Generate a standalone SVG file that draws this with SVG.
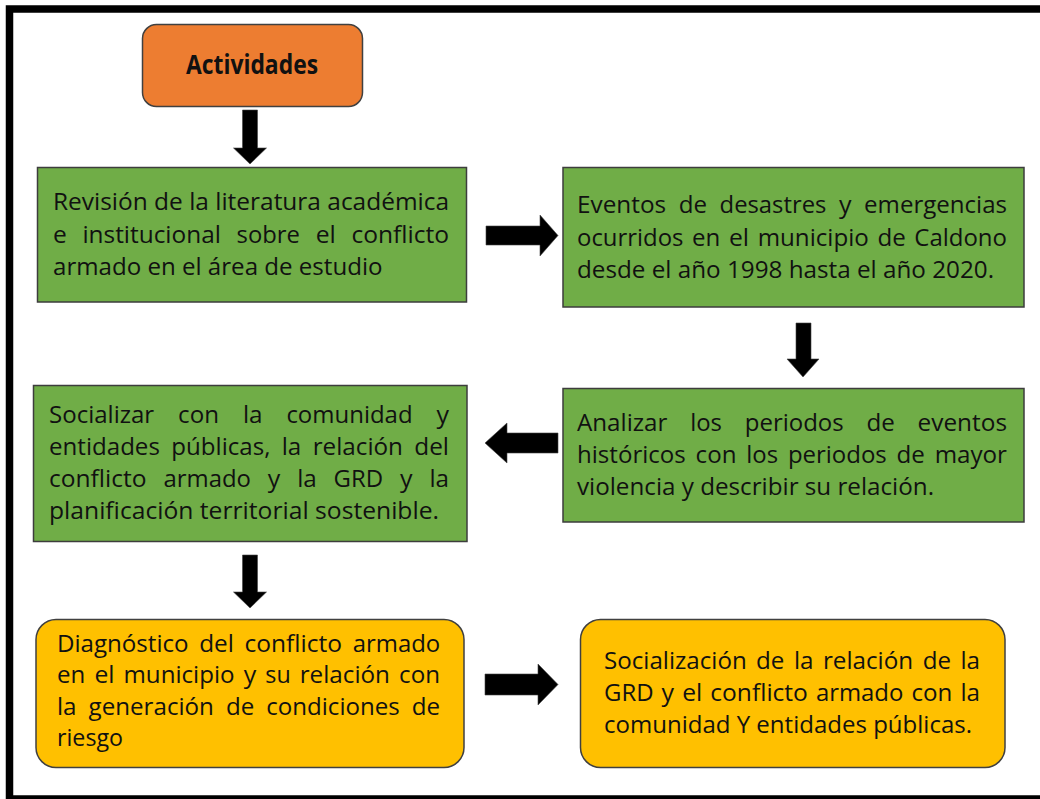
<svg xmlns="http://www.w3.org/2000/svg" width="1040" height="799" viewBox="0 0 1040 799">
<style>
.t{font-family:"Open Sans","Liberation Sans",sans-serif;font-size:24.5px;fill:#111}
.b{font-family:"Open Sans","Liberation Sans",sans-serif;font-size:26px;font-weight:bold;fill:#111}
.g{fill:#70AD47;stroke:#3d3d3d;stroke-width:1.5}
.o{fill:#ED7D31;stroke:#404040;stroke-width:1.5}
.y{fill:#FFC000;stroke:#404040;stroke-width:1.5}
.a{fill:#000;stroke:#444;stroke-width:0.6}
</style>
<rect width="1040" height="799" fill="#fff"/>
<rect x="9.5" y="9" width="1045" height="790" fill="none" stroke="#000" stroke-width="7.5"/>

<g id="connectors">
<polygon class="a" points="242.5,110 257.5,110 257.5,148 266.5,148 250,164 233.5,148 242.5,148"/>
<polygon class="a" points="486,226 540,226 540,215 558,235.5 540,256 540,245 486,245"/>
<polygon class="a" points="796,323 811,323 811,359 819,359 803,377 787,359 796,359"/>
<polygon class="a" points="558,433 507,433 507,423 485,443 507,463 507,453 558,453"/>
<polygon class="a" points="242.5,555 257.5,555 257.5,592 266.5,592 250,608 233.5,592 242.5,592"/>
<polygon class="a" points="485,674 538,674 538,664 558,684.5 538,705 538,695 485,695"/>
</g>

<g id="actividades">
<rect class="o" x="142.5" y="24.5" width="220" height="82" rx="14"/>
<text class="b" x="186" y="74" textLength="132" lengthAdjust="spacingAndGlyphs">Actividades</text>
</g>

<g id="revision">
<rect class="g" x="37.5" y="167.5" width="429" height="134.5"/>
<text class="t" x="53" y="210" textLength="396" lengthAdjust="spacingAndGlyphs">Revisión de la literatura académica</text>
<text class="t" x="53" y="243" textLength="13.8" lengthAdjust="spacingAndGlyphs">e</text>
<text class="t" x="82.4" y="243" textLength="138.5" lengthAdjust="spacingAndGlyphs">institucional</text>
<text class="t" x="236.6" y="243" textLength="63.4" lengthAdjust="spacingAndGlyphs">sobre</text>
<text class="t" x="315.7" y="243" textLength="20.1" lengthAdjust="spacingAndGlyphs">el</text>
<text class="t" x="351.4" y="243" textLength="97.6" lengthAdjust="spacingAndGlyphs">conflicto</text>
<text class="t" x="53" y="275" textLength="329.5" lengthAdjust="spacingAndGlyphs">armado en el área de estudio</text>
</g>

<g id="eventos">
<rect class="g" x="563" y="167.5" width="461" height="139.5"/>
<text class="t" x="577" y="213" textLength="89.1" lengthAdjust="spacingAndGlyphs">Eventos</text>
<text class="t" x="678.7" y="213" textLength="28.3" lengthAdjust="spacingAndGlyphs">de</text>
<text class="t" x="719.6" y="213" textLength="106.8" lengthAdjust="spacingAndGlyphs">desastres</text>
<text class="t" x="839" y="213" textLength="12.5" lengthAdjust="spacingAndGlyphs">y</text>
<text class="t" x="864.1" y="213" textLength="142.9" lengthAdjust="spacingAndGlyphs">emergencias</text>
<text class="t" x="577" y="246" textLength="106.5" lengthAdjust="spacingAndGlyphs">ocurridos</text>
<text class="t" x="692.1" y="246" textLength="28.3" lengthAdjust="spacingAndGlyphs">en</text>
<text class="t" x="729" y="246" textLength="20.1" lengthAdjust="spacingAndGlyphs">el</text>
<text class="t" x="757.7" y="246" textLength="111.1" lengthAdjust="spacingAndGlyphs">municipio</text>
<text class="t" x="877.4" y="246" textLength="28.3" lengthAdjust="spacingAndGlyphs">de</text>
<text class="t" x="914.3" y="246" textLength="92.7" lengthAdjust="spacingAndGlyphs">Caldono</text>
<text class="t" x="577" y="278" textLength="417" lengthAdjust="spacingAndGlyphs">desde el año 1998 hasta el año 2020.</text>
</g>

<g id="analizar">
<rect class="g" x="563" y="388.5" width="461" height="133.5"/>
<text class="t" x="577" y="431" textLength="90.4" lengthAdjust="spacingAndGlyphs">Analizar</text>
<text class="t" x="690.2" y="431" textLength="31.8" lengthAdjust="spacingAndGlyphs">los</text>
<text class="t" x="744.8" y="431" textLength="98.9" lengthAdjust="spacingAndGlyphs">periodos</text>
<text class="t" x="866.5" y="431" textLength="28.3" lengthAdjust="spacingAndGlyphs">de</text>
<text class="t" x="917.6" y="431" textLength="89.4" lengthAdjust="spacingAndGlyphs">eventos</text>
<text class="t" x="577" y="463" textLength="108.8" lengthAdjust="spacingAndGlyphs">históricos</text>
<text class="t" x="695.6" y="463" textLength="40.9" lengthAdjust="spacingAndGlyphs">con</text>
<text class="t" x="746.3" y="463" textLength="31.8" lengthAdjust="spacingAndGlyphs">los</text>
<text class="t" x="787.9" y="463" textLength="98.9" lengthAdjust="spacingAndGlyphs">periodos</text>
<text class="t" x="896.6" y="463" textLength="28.3" lengthAdjust="spacingAndGlyphs">de</text>
<text class="t" x="934.7" y="463" textLength="72.3" lengthAdjust="spacingAndGlyphs">mayor</text>
<text class="t" x="577" y="495" textLength="357" lengthAdjust="spacingAndGlyphs">violencia y describir su relación.</text>
</g>

<g id="socializar">
<rect class="g" x="33.5" y="385.5" width="433.5" height="156"/>
<text class="t" x="49" y="423" textLength="105.2" lengthAdjust="spacingAndGlyphs">Socializar</text>
<text class="t" x="178.1" y="423" textLength="40.9" lengthAdjust="spacingAndGlyphs">con</text>
<text class="t" x="242.9" y="423" textLength="19.6" lengthAdjust="spacingAndGlyphs">la</text>
<text class="t" x="286.4" y="423" textLength="126.2" lengthAdjust="spacingAndGlyphs">comunidad</text>
<text class="t" x="436.5" y="423" textLength="12.5" lengthAdjust="spacingAndGlyphs">y</text>
<text class="t" x="49" y="455" textLength="110.9" lengthAdjust="spacingAndGlyphs">entidades</text>
<text class="t" x="171.3" y="455" textLength="99.1" lengthAdjust="spacingAndGlyphs">públicas,</text>
<text class="t" x="281.7" y="455" textLength="19.6" lengthAdjust="spacingAndGlyphs">la</text>
<text class="t" x="312.7" y="455" textLength="90.3" lengthAdjust="spacingAndGlyphs">relación</text>
<text class="t" x="414.3" y="455" textLength="34.7" lengthAdjust="spacingAndGlyphs">del</text>
<text class="t" x="49" y="487" textLength="97.6" lengthAdjust="spacingAndGlyphs">conflicto</text>
<text class="t" x="163.5" y="487" textLength="87.5" lengthAdjust="spacingAndGlyphs">armado</text>
<text class="t" x="267.8" y="487" textLength="12.5" lengthAdjust="spacingAndGlyphs">y</text>
<text class="t" x="297.2" y="487" textLength="19.6" lengthAdjust="spacingAndGlyphs">la</text>
<text class="t" x="333.6" y="487" textLength="49.6" lengthAdjust="spacingAndGlyphs">GRD</text>
<text class="t" x="400.1" y="487" textLength="12.5" lengthAdjust="spacingAndGlyphs">y</text>
<text class="t" x="429.4" y="487" textLength="19.6" lengthAdjust="spacingAndGlyphs">la</text>
<text class="t" x="49" y="519" textLength="390" lengthAdjust="spacingAndGlyphs">planificación territorial sostenible.</text>
</g>

<g id="diagnostico">
<rect class="y" x="36" y="619.5" width="428" height="148" rx="20"/>
<text class="t" x="57" y="652" textLength="131.6" lengthAdjust="spacingAndGlyphs">Diagnóstico</text>
<text class="t" x="199.2" y="652" textLength="34.7" lengthAdjust="spacingAndGlyphs">del</text>
<text class="t" x="244.5" y="652" textLength="97.6" lengthAdjust="spacingAndGlyphs">conflicto</text>
<text class="t" x="352.7" y="652" textLength="87.5" lengthAdjust="spacingAndGlyphs">armado</text>
<text class="t" x="57" y="683" textLength="28.3" lengthAdjust="spacingAndGlyphs">en</text>
<text class="t" x="94.4" y="683" textLength="20.1" lengthAdjust="spacingAndGlyphs">el</text>
<text class="t" x="123.5" y="683" textLength="111.1" lengthAdjust="spacingAndGlyphs">municipio</text>
<text class="t" x="243.7" y="683" textLength="12.5" lengthAdjust="spacingAndGlyphs">y</text>
<text class="t" x="265.3" y="683" textLength="25.4" lengthAdjust="spacingAndGlyphs">su</text>
<text class="t" x="299.7" y="683" textLength="90.3" lengthAdjust="spacingAndGlyphs">relación</text>
<text class="t" x="399.1" y="683" textLength="40.9" lengthAdjust="spacingAndGlyphs">con</text>
<text class="t" x="57" y="715" textLength="19.6" lengthAdjust="spacingAndGlyphs">la</text>
<text class="t" x="88.6" y="715" textLength="125.3" lengthAdjust="spacingAndGlyphs">generación</text>
<text class="t" x="225.9" y="715" textLength="28.3" lengthAdjust="spacingAndGlyphs">de</text>
<text class="t" x="266.2" y="715" textLength="133.6" lengthAdjust="spacingAndGlyphs">condiciones</text>
<text class="t" x="411.8" y="715" textLength="28.3" lengthAdjust="spacingAndGlyphs">de</text>
<text class="t" x="57" y="746" textLength="66" lengthAdjust="spacingAndGlyphs">riesgo</text>
</g>

<g id="socializacion">
<rect class="y" x="580.5" y="619.5" width="424.5" height="148" rx="20"/>
<text class="t" x="604" y="669" textLength="142.7" lengthAdjust="spacingAndGlyphs">Socialización</text>
<text class="t" x="756.1" y="669" textLength="28.3" lengthAdjust="spacingAndGlyphs">de</text>
<text class="t" x="793.9" y="669" textLength="19.6" lengthAdjust="spacingAndGlyphs">la</text>
<text class="t" x="822.9" y="669" textLength="90.3" lengthAdjust="spacingAndGlyphs">relación</text>
<text class="t" x="922.7" y="669" textLength="28.3" lengthAdjust="spacingAndGlyphs">de</text>
<text class="t" x="960.4" y="669" textLength="19.6" lengthAdjust="spacingAndGlyphs">la</text>
<text class="t" x="604" y="701" textLength="49.6" lengthAdjust="spacingAndGlyphs">GRD</text>
<text class="t" x="661.6" y="701" textLength="12.5" lengthAdjust="spacingAndGlyphs">y</text>
<text class="t" x="682.2" y="701" textLength="20.1" lengthAdjust="spacingAndGlyphs">el</text>
<text class="t" x="710.3" y="701" textLength="97.6" lengthAdjust="spacingAndGlyphs">conflicto</text>
<text class="t" x="815.9" y="701" textLength="87.5" lengthAdjust="spacingAndGlyphs">armado</text>
<text class="t" x="911.5" y="701" textLength="40.9" lengthAdjust="spacingAndGlyphs">con</text>
<text class="t" x="960.4" y="701" textLength="19.6" lengthAdjust="spacingAndGlyphs">la</text>
<text class="t" x="604" y="733" textLength="368" lengthAdjust="spacingAndGlyphs">comunidad Y entidades públicas.</text>
</g>
</svg>
